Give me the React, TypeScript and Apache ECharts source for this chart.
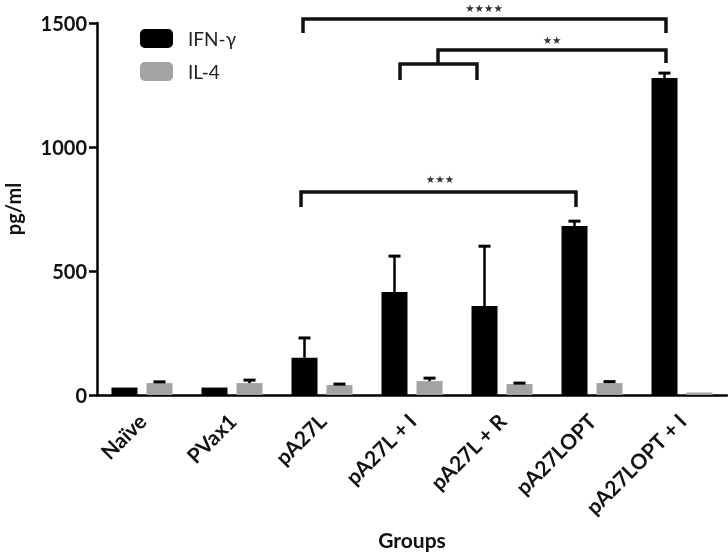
import React, { useEffect, useRef } from "react";
import * as echarts from "echarts";

const categories = ["Naïve", "PVax1", "pA27L", "pA27L + I", "pA27L + R", "pA27LOPT", "pA27LOPT + I"];
const ifnMean = [30, 30, 150, 415, 359, 681, 1278];
const ifnErr = [0, 0, 80, 145, 241, 20, 20];
const il4Mean = [48, 48, 40, 56, 44, 48, 10];
const il4Err = [5, 12, 4, 12, 4, 6, 0];
const yTicks = [0, 500, 1000, 1500];

// brackets: [xLeft, xRight (category units), yLine, yDropLeft, yDropRight]
const brackets = [
  [1.789, 5.822, 1516, 1460, 1460],
  [3.289, 5.822, 1391, 1335, 1339],
  [2.867, 3.722, 1335, 1270, 1270],
  [1.767, 4.822, 819, 758, 758],
];
// labels: [text, x (category units), y value]
const starLabels: [string, number, number][] = [
  ["★★★★", 3.8, 1562],
  ["★★", 4.556, 1432],
  ["★★★", 3.311, 872],
];

const FONT = "Lato";
const BAR_W = 26;
const BAR_GAP = 9;

export default function App() {
  const ref = useRef<HTMLDivElement>(null);
  useEffect(() => {
    const chart = echarts.init(ref.current!, null, { renderer: "svg" });
    const off = BAR_W / 2 + BAR_GAP / 2;
    const errSeries = (means: number[], errs: number[], sign: number) => ({
      type: "custom",
      z: 5,
      silent: true,
      data: means.map((m, i) => [i, m, errs[i]]),
      renderItem: (params: any, api: any) => {
        const i = api.value(0);
        const m = api.value(1);
        const e = api.value(2);
        if (!e) return { type: "group", children: [] };
        const base = api.coord([i, m]);
        const top = api.coord([i, m + e]);
        const x = base[0] + sign * off;
        return {
          type: "group",
          children: [
            { type: "line", shape: { x1: x, y1: base[1], x2: x, y2: top[1] }, style: { stroke: "#000", lineWidth: 2.5 } },
            { type: "line", shape: { x1: x - 6, y1: top[1], x2: x + 6, y2: top[1] }, style: { stroke: "#000", lineWidth: 3 } },
          ],
        };
      },
    });
    chart.setOption({
      animation: false,
      grid: { left: 97, right: 1, top: 23, bottom: 160, containLabel: false, outerBoundsMode: "none" },
      legend: {
        orient: "vertical",
        left: 135,
        top: 24,
        itemWidth: 33,
        itemHeight: 19,
        itemGap: 14,
        data: ["IFN-γ", "IL-4"],
        textStyle: { fontFamily: FONT, fontSize: 19, color: "#222", padding: [0, 0, 0, 10] },
      },
      xAxis: {
        type: "category",
        data: categories,
        name: "Groups",
        nameLocation: "middle",
        nameGap: 134,
        nameMoveOverlap: false,
        nameTextStyle: { fontFamily: FONT, fontWeight: "bold", fontSize: 21, color: "#111" },
        axisLine: { lineStyle: { color: "#000", width: 2.5 } },
        axisTick: { alignWithLabel: true, length: 7, lineStyle: { color: "#000", width: 2.5 } },
        axisLabel: { rotate: 45, margin: 22, fontFamily: FONT, fontWeight: "bold", fontSize: 21, color: "#111", interval: 0 },
      },
      yAxis: {
        type: "value",
        min: 0,
        max: 1500,
        interval: 500,
        name: "pg/ml",
        nameLocation: "middle",
        nameGap: 74,
        nameMoveOverlap: false,
        nameTextStyle: { fontFamily: FONT, fontWeight: "bold", fontSize: 20, color: "#111" },
        axisLine: { show: true, lineStyle: { color: "#000", width: 2.5 } },
        axisTick: { show: true, length: 8, lineStyle: { color: "#000", width: 2.5 } },
        splitLine: { show: false },
        axisLabel: {
          margin: 10,
          fontFamily: FONT,
          fontWeight: "bold",
          fontSize: 20,
          color: "#111",
          formatter: (v: number) => (yTicks.includes(v) ? String(v) : ""),
        },
      },
      series: [
        { name: "IFN-γ", type: "bar", data: ifnMean, barWidth: BAR_W, barGap: `${(BAR_GAP / BAR_W) * 100}%`, itemStyle: { color: "#000" } },
        { name: "IL-4", type: "bar", data: il4Mean, barWidth: BAR_W, itemStyle: { color: "#a3a3a3" } },
        errSeries(ifnMean, ifnErr, -1),
        errSeries(il4Mean, il4Err, 1),
        {
          type: "custom",
          clip: false,
          silent: true,
          z: 6,
          data: brackets.map((b, i) => [i, b[2]]),
          renderItem: (params: any, api: any) => {
            const b = brackets[params.dataIndex];
            const x0 = api.coord([0, 0])[0] - api.size([1, 0])[0] * 0.5;
            const band = api.size([1, 0])[0];
            const px = (c: number) => x0 + (c + 0.5) * band;
            const py = (v: number) => api.coord([0, v])[1];
            return {
              type: "polyline",
              shape: { points: [[px(b[0]), py(b[3])], [px(b[0]), py(b[2])], [px(b[1]), py(b[2])], [px(b[1]), py(b[4])]] },
              style: { stroke: "#111", lineWidth: 3.5, fill: null },
            };
          },
        },
        {
          type: "custom",
          clip: false,
          silent: true,
          z: 6,
          data: starLabels.map((s, i) => [i, s[2]]),
          renderItem: (params: any, api: any) => {
            const s = starLabels[params.dataIndex];
            const x0 = api.coord([0, 0])[0] - api.size([1, 0])[0] * 0.5;
            const band = api.size([1, 0])[0];
            return {
              type: "text",
              style: {
                text: s[0],
                x: x0 + (s[1] + 0.5) * band,
                y: api.coord([0, s[2]])[1],
                align: "center",
                verticalAlign: "middle",
                fontSize: 10.5,
                fontFamily: "DejaVu Sans",
                fill: "#333",
              },
            };
          },
        },
      ],
    });
    return () => chart.dispose();
  }, []);
  return <div ref={ref} style={{ position: "fixed", left: 0, top: 0, width: 728, height: 555 }} />;
}
